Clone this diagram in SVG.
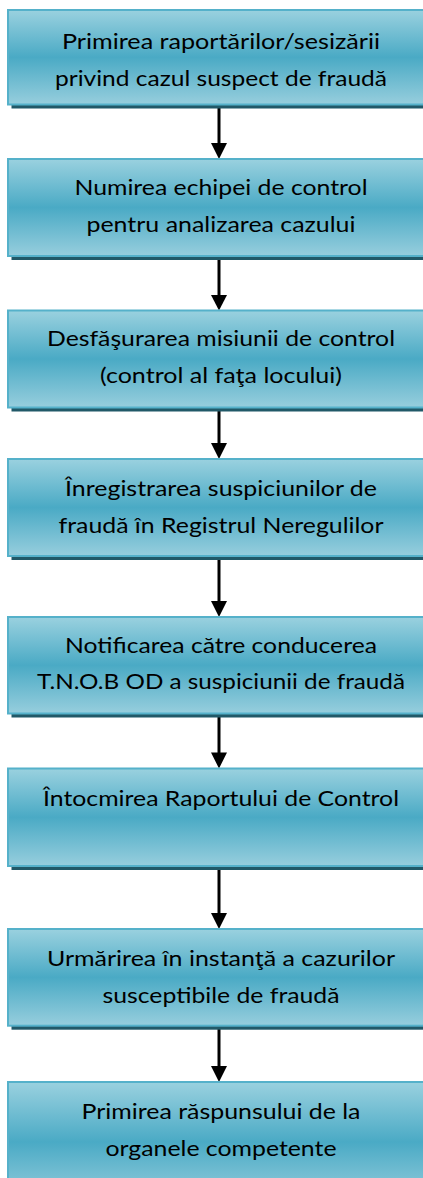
<svg xmlns="http://www.w3.org/2000/svg" width="423" height="1178" viewBox="0 0 423 1178">
  <defs>
    <linearGradient id="fill" x1="0" y1="0" x2="0" y2="1">
      <stop offset="0" stop-color="#9ad1df"/>
      <stop offset="0.5" stop-color="#4aaac5"/>
      <stop offset="1" stop-color="#97cedd"/>
    </linearGradient>
    <style>
      .box { fill: url(#fill); stroke: #55b1ca; stroke-width: 2; }
      .shadow { fill: #215968; }
      .lbl { font-family: "Lato", "Open Sans", "DejaVu Sans", sans-serif; font-size: 22px; fill: #000; text-anchor: middle; }
      .line { stroke: #000; stroke-width: 3; fill: none; }
      .head { fill: #000; }
    </style>
  </defs>
  <rect width="423" height="1178" fill="#ffffff"/>

  <g id="connectors">
    <line class="line" x1="219" y1="104" x2="219" y2="144"/>
    <polygon class="head" points="211,143 227,143 219,159"/>
    <line class="line" x1="219" y1="256" x2="219" y2="296"/>
    <polygon class="head" points="211,295 227,295 219,310.5"/>
    <line class="line" x1="219" y1="407" x2="219" y2="445"/>
    <polygon class="head" points="211,443 227,443 219,459"/>
    <line class="line" x1="219" y1="556" x2="219" y2="603"/>
    <polygon class="head" points="211,601 227,601 219,617"/>
    <line class="line" x1="219" y1="713" x2="219" y2="754"/>
    <polygon class="head" points="211,752.5 227,752.5 219,768.5"/>
    <line class="line" x1="219" y1="866" x2="219" y2="915"/>
    <polygon class="head" points="211,913 227,913 219,929"/>
    <line class="line" x1="219" y1="1025" x2="219" y2="1068"/>
    <polygon class="head" points="211,1066 227,1066 219,1082"/>
  </g>

  <g id="node1">
    <rect class="shadow" x="11.5" y="14" width="430" height="94.5"/>
    <rect class="box" x="8" y="10" width="430" height="94.5"/>
    <text class="lbl" x="221" y="49" textLength="318" lengthAdjust="spacingAndGlyphs">Primirea raportărilor/sesizării</text>
    <text class="lbl" x="221" y="86" textLength="332" lengthAdjust="spacingAndGlyphs">privind cazul suspect de fraudă</text>
  </g>
  <g id="node2">
    <rect class="shadow" x="11.5" y="163" width="430" height="97"/>
    <rect class="box" x="8" y="159" width="430" height="97"/>
    <text class="lbl" x="221" y="195.3" textLength="293" lengthAdjust="spacingAndGlyphs">Numirea echipei de control</text>
    <text class="lbl" x="221" y="232" textLength="269" lengthAdjust="spacingAndGlyphs">pentru analizarea cazului</text>
  </g>
  <g id="node3">
    <rect class="shadow" x="11.5" y="314.5" width="430" height="97"/>
    <rect class="box" x="8" y="310.5" width="430" height="97"/>
    <text class="lbl" x="221" y="346" textLength="348" lengthAdjust="spacingAndGlyphs">Desfăşurarea misiunii de control</text>
    <text class="lbl" x="221" y="383.3" textLength="242" lengthAdjust="spacingAndGlyphs">(control al faţa locului)</text>
  </g>
  <g id="node4">
    <rect class="shadow" x="11.5" y="463" width="430" height="97"/>
    <rect class="box" x="8" y="459" width="430" height="97"/>
    <text class="lbl" x="221" y="496" textLength="312" lengthAdjust="spacingAndGlyphs">Înregistrarea suspiciunilor de</text>
    <text class="lbl" x="221" y="532.7" textLength="325" lengthAdjust="spacingAndGlyphs">fraudă în Registrul Neregulilor</text>
  </g>
  <g id="node5">
    <rect class="shadow" x="11.5" y="621" width="430" height="96.5"/>
    <rect class="box" x="8" y="617" width="430" height="96.5"/>
    <text class="lbl" x="221" y="652.7" textLength="312" lengthAdjust="spacingAndGlyphs">Notificarea către conducerea</text>
    <text class="lbl" x="221" y="689.3" textLength="368" lengthAdjust="spacingAndGlyphs">T.N.O.B OD a suspiciunii de fraudă</text>
  </g>
  <g id="node6">
    <rect class="shadow" x="11.5" y="772.5" width="430" height="97.5"/>
    <rect class="box" x="8" y="768.5" width="430" height="97.5"/>
    <text class="lbl" x="221" y="806" textLength="356" lengthAdjust="spacingAndGlyphs">Întocmirea Raportului de Control</text>
  </g>
  <g id="node7">
    <rect class="shadow" x="11.5" y="933" width="430" height="96.7"/>
    <rect class="box" x="8" y="929" width="430" height="96.7"/>
    <text class="lbl" x="221" y="966" textLength="348" lengthAdjust="spacingAndGlyphs">Urmărirea în instanţă a cazurilor</text>
    <text class="lbl" x="221" y="1002.7" textLength="237" lengthAdjust="spacingAndGlyphs">susceptibile de fraudă</text>
  </g>
  <g id="node8">
    <rect class="shadow" x="11.5" y="1086" width="430" height="120"/>
    <rect class="box" x="8" y="1082" width="430" height="120"/>
    <text class="lbl" x="221" y="1119" textLength="279" lengthAdjust="spacingAndGlyphs">Primirea răspunsului de la</text>
    <text class="lbl" x="221" y="1156" textLength="231" lengthAdjust="spacingAndGlyphs">organele competente</text>
  </g>
</svg>
